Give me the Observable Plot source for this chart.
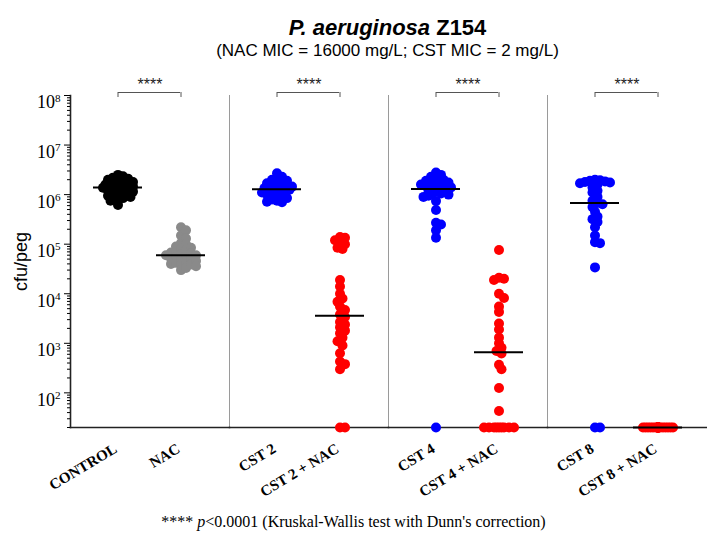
<!DOCTYPE html>
<html><head><meta charset="utf-8">
<script src="https://cdn.jsdelivr.net/npm/d3@7"></script>
<script src="https://cdn.jsdelivr.net/npm/@observablehq/plot@0.6"></script>
<style>
body{margin:0;background:#fff;width:707px;height:538px;position:relative;overflow:hidden}
.t{position:absolute;white-space:nowrap;line-height:1;color:#000}
</style></head><body>
<div class="t" id="title" style="left:68px;width:639px;text-align:center;top:15px;font:bold 22px 'Liberation Sans',Arial,sans-serif"><i>P. aeruginosa</i> Z154</div>
<div class="t" id="subtitle" style="left:68px;width:639px;text-align:center;top:41px;font:17px 'Liberation Sans',Arial,sans-serif">(NAC MIC = 16000 mg/L; CST MIC = 2 mg/L)</div>
<div id="chart" style="position:absolute;left:0;top:60px"></div>
<div class="t" id="caption" style="left:0;width:707px;text-align:center;top:512.5px;font:16px 'Liberation Serif','Times New Roman',serif">**** <i>p</i>&lt;0.0001 (Kruskal-Wallis test with Dunn's correction)</div>
<script>
// ---- data (cfu/peg); 20 = below detection, plotted on the axis ----
const categories = ["CONTROL","NAC","CST 2","CST 2 + NAC","CST 4","CST 4 + NAC","CST 8","CST 8 + NAC"];
const groupNames = ["CONTROL/NAC","CST 2","CST 4","CST 8"];
const slots = ["alone","with NAC"];
const controlValues = [2.5e6,2.35e6,2.2e6,2.1e6,2.0e6,1.95e6,1.85e6,1.8e6,1.7e6,1.65e6,1.6e6,1.55e6,1.5e6,1.45e6,1.42e6,1.38e6,1.35e6,1.3e6,1.25e6,1.2e6,1.15e6,1.1e6,1.05e6,1.0e6,9.5e5,9.0e5,8.5e5,8.0e5,7.5e5,6.2e5];
const nacValues = [2.2e5,1.9e5,1.5e5,1.3e5,1.05e5,1.0e5,9.0e4,8.5e4,8.0e4,7.5e4,7.0e4,6.8e4,6.5e4,6.2e4,6.0e4,6.0e4,5.8e4,5.5e4,5.2e4,5.0e4,4.8e4,4.6e4,4.4e4,4.2e4,4.0e4,3.9e4,3.8e4,3.6e4,3.3e4,3.0e4];
const cst2Values = [2.7e6,2.3e6,2.1e6,2.0e6,1.9e6,1.8e6,1.7e6,1.6e6,1.55e6,1.5e6,1.45e6,1.4e6,1.35e6,1.3e6,1.28e6,1.25e6,1.2e6,1.15e6,1.1e6,1.05e6,1.0e6,9.5e5,9.0e5,8.5e5,8.0e5,7.5e5,7.2e5,7.0e5];
const cst2NacValues = [1.4e5,1.35e5,1.2e5,1.05e5,1.0e5,8.5e4,8.0e4,1.9e4,1.4e4,1.0e4,8.0e3,6.9e3,5.5e3,4.7e3,3.8e3,3.4e3,2.7e3,2.4e3,2.1e3,1.8e3,1.6e3,1.3e3,1.1e3,900,630,430,380,300,20,20];
const cst4Values = [2.8e6,2.5e6,2.3e6,2.1e6,2.0e6,1.9e6,1.8e6,1.75e6,1.7e6,1.6e6,1.55e6,1.5e6,1.45e6,1.4e6,1.3e6,1.25e6,1.2e6,1.1e6,1.05e6,1.0e6,9.5e5,9.0e5,7.4e5,4.9e5,2.7e5,2.5e5,1.9e5,1.35e5,20];
const cst4NacValues = [7.6e4,2.1e4,2.0e4,1.9e4,1.0e4,8.2e3,5.5e3,4.3e3,2.5e3,1.9e3,1.3e3,1.0e3,810,700,620,370,300,125,43,20,20,20,20,20,20,20,20,20];
const cst8Values = [2.0e6,1.95e6,1.9e6,1.85e6,1.8e6,1.75e6,1.7e6,1.6e6,1.4e6,1.2e6,1.1e6,9.0e5,7.5e5,6.8e5,6.4e5,5.6e5,4.5e5,3.6e5,3.2e5,2.8e5,2.2e5,1.5e5,1.1e5,1.05e5,3.4e4,20,20];
const cst8NacValues = [20,20,20,20,20,20,20,20,20,20,20,20,20,20,20,20,20,20,20,20,20,20,20,20,20,20,20,20];
const seriesValues = [controlValues,nacValues,cst2Values,cst2NacValues,cst4Values,cst4NacValues,cst8Values,cst8NacValues];
const yMajorTicks = [1e2,1e3,1e4,1e5,1e6,1e7,1e8];
const yDomain = [20, 1e8];

// ---- styles ----
const dotColors = ["#000000","#8a8a8a","#0000ff","#ff0000","#0000ff","#ff0000","#0000ff","#ff0000"];
const sans = "'Liberation Sans', Arial, sans-serif";
const serif = "'Liberation Serif', 'Times New Roman', serif";
const W = 707, H = 440, mT = 35, mB = 73, mL = 68, mR = 0;
const dotR = 5, colStep = 2.5, maxCol = 6, minSep = 5;

// ---- records ----
const points = categories.flatMap((c, i) => seriesValues[i].map(v => ({
  category: c, group: groupNames[Math.floor(i / 2)], slot: slots[i % 2], value: v, color: dotColors[i]
})));
const ys = d3.scaleLog().domain(yDomain).range([H - mB, mT]);
const candidates = [0]; for (let k = 1; k <= maxCol; k++) candidates.push(k, -k);
for (const c of categories) {
  const items = points.filter(p => p.category === c).sort((a, b) => b.value - a.value);
  const placed = [];
  for (const d of items) {
    const py = ys(d.value);
    let best = 0, bestDist = -1;
    for (const k of candidates) {
      let m = Infinity;
      for (const p of placed) m = Math.min(m, Math.hypot((k - p.col) * colStep, py - p.py));
      if (m >= minSep) { best = k; break; }
      if (m > bestDist) { bestDist = m; best = k; }
    }
    d.col = best; placed.push({col: best, py});
  }
}
const medians = categories.map((c, i) => ({group: groupNames[Math.floor(i / 2)], slot: slots[i % 2], median: d3.median(seriesValues[i])}));
const labelData = categories.map((c, i) => ({group: groupNames[Math.floor(i / 2)], slot: slots[i % 2], category: c}));
const brackets = groupNames.map(g => ({group: g, a: slots[0], b: slots[1]}));
const legs = groupNames.flatMap(g => slots.map(s => ({group: g, slot: s})));
const minorTicks = ys.ticks().filter(t => !yMajorTicks.includes(t));

const marks = [
  Plot.frame({anchor: "left", stroke: "#9a9a9a", strokeWidth: 1}),
  Plot.frame({anchor: "bottom", stroke: "#222", strokeWidth: 1.6}),
  Plot.frame({anchor: "left", stroke: "#222", strokeWidth: 1.6, facetAnchor: "left"}),
  Plot.axisY({ticks: minorTicks, tickSize: 3, tickFormat: () => "", label: null}),
  Plot.axisY({ticks: yMajorTicks, tickSize: 6, tickPadding: 4, tickFormat: d => String(Math.round(Math.log10(d))), label: null}),
  Plot.axisY({ticks: [], label: "cfu/peg", labelAnchor: "center", labelOffset: 56, labelArrow: "none", fontSize: 18, fontFamily: sans})
];
for (let k = -maxCol; k <= maxCol; k++) {
  marks.push(Plot.dot(points, {filter: d => d.col === k, fx: "group", x: "slot", y: "value", r: dotR, fill: "color", dx: k * colStep}));
}
marks.push(
  Plot.tickY(medians, {fx: "group", x: "slot", y: "median", stroke: "#000", strokeWidth: 2}),
  Plot.ruleY(brackets, {fx: "group", x1: "a", x2: "b", y: yDomain[1], dy: -3, insetLeft: 25, insetRight: 25, stroke: "#555", strokeWidth: 1}),
  Plot.ruleX(legs, {fx: "group", x: "slot", y1: yDomain[1], y2: yDomain[1], insetTop: -3, insetBottom: -2, stroke: "#555", strokeWidth: 1}),
  Plot.text(brackets, {fx: "group", text: () => "****", frameAnchor: "top", dy: -17, fontSize: 16, fontFamily: sans, fill: "#222"}),
  Plot.text(labelData, {fx: "group", x: "slot", text: "category", frameAnchor: "bottom", dy: 24, rotate: -31, textAnchor: "end", fontWeight: "bold", fontFamily: serif, fontSize: 15, fill: "#000"})
);

const svg = Plot.plot({
  width: W, height: H, marginTop: mT, marginBottom: mB, marginLeft: mL, marginRight: mR,
  fx: {domain: groupNames, padding: 0, axis: null},
  x: {type: "band", domain: slots, paddingInner: 0.22, paddingOuter: 0.36, axis: null},
  y: {type: "log", domain: yDomain},
  style: {background: "#fff", color: "#000"},
  marks
});
d3.select(svg).selectAll('g[aria-label="y-axis tick label"] text').each(function () {
  const e = this.textContent;
  if (!e) return;
  const t = d3.select(this);
  t.attr("font-size", 18).attr("font-family", serif).attr("dy", "0.4em");
  t.text(null);
  t.append("tspan").text("10");
  t.append("tspan").attr("dy", "-0.6em").attr("font-size", "0.62em").text(e);
});
document.getElementById("chart").appendChild(svg);
</script>
</body></html>
